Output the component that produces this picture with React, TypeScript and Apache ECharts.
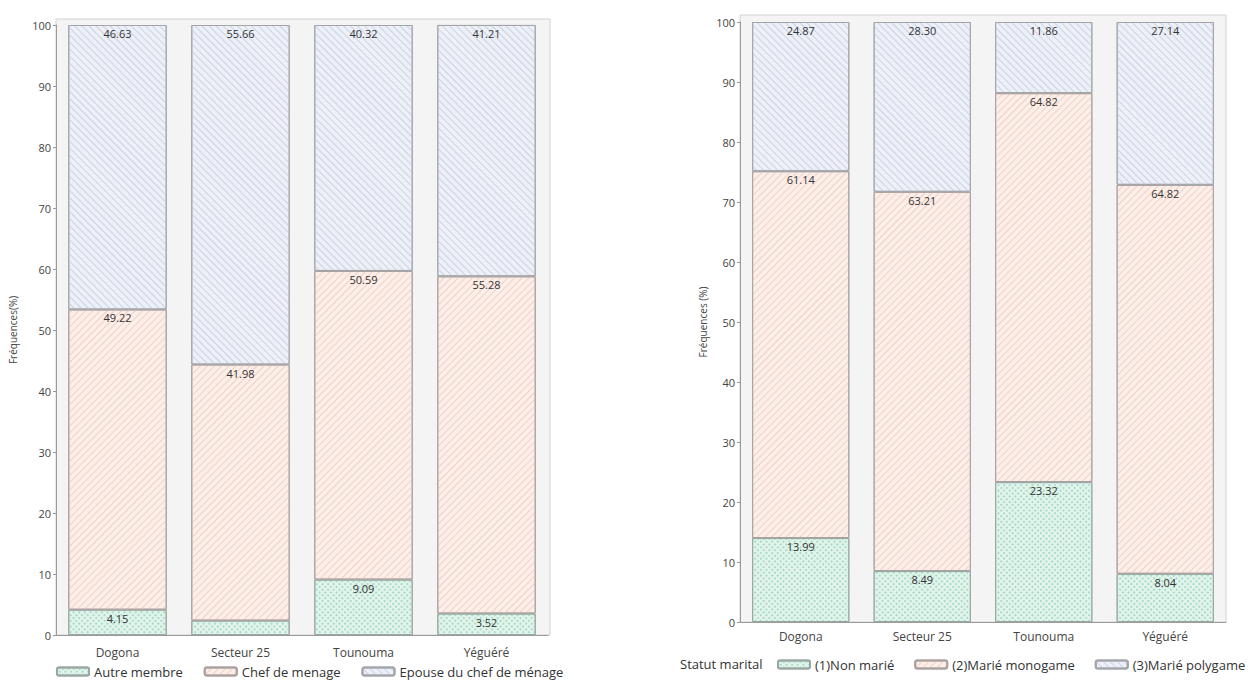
import React, { useEffect, useRef } from "react";
import * as echarts from "echarts";

const categories = ["Dogona", "Secteur 25", "Tounouma", "Yéguéré"];
const autreMembre = [4.15, 2.36, 9.09, 3.52];
const chefMenage = [49.22, 41.98, 50.59, 55.28];
const epouseChef = [46.63, 55.66, 40.32, 41.21];
const nonMarie = [13.99, 8.49, 23.32, 8.04];
const marieMono = [61.14, 63.21, 64.82, 64.82];
const mariePoly = [24.87, 28.3, 11.86, 27.14];
const yTicks = [0, 10, 20, 30, 40, 50, 60, 70, 80, 90, 100];

const FONT = "Open Sans";

const greenStyle = {
  color: "#e2f4ec",
  borderColor: "#9aa7a2",
  borderWidth: 1,
  decal: {
    symbol: "rect",
    symbolSize: 1,
    color: "#a9dcc6",
    dashArrayX: [2, 2],
    dashArrayY: [2, 2],
    rotation: Math.PI / 4,
  },
};
const pinkStyle = {
  color: "#fcefea",
  borderColor: "#a9a2a0",
  borderWidth: 1,
  decal: {
    symbol: "rect",
    symbolSize: 1,
    color: "#f2cfc4",
    dashArrayX: [1, 0],
    dashArrayY: [1, 4],
    rotation: -Math.PI / 4,
  },
};
const blueStyle = {
  color: "#edf0f7",
  borderColor: "#a3a5ab",
  borderWidth: 1,
  decal: {
    symbol: "rect",
    symbolSize: 1,
    color: "#cbd2e2",
    dashArrayX: [1, 0],
    dashArrayY: [1, 4],
    rotation: Math.PI / 4,
  },
};

function mkData(vals: number[], hideBelow = 3) {
  return vals.map((v) => ({
    value: v,
    label: { show: v >= hideBelow },
  }));
}

const labelCfg = {
  show: true,
  position: "insideTop",
  distance: 3,
  fontFamily: FONT,
  fontSize: 11,
  color: "#333",
  formatter: (p: any) => Number(p.value).toFixed(2),
};

export default function App() {
  const ref = useRef<HTMLDivElement>(null);
  useEffect(() => {
    if (!ref.current) return;
    const chart = echarts.init(ref.current, null, { renderer: "svg" });
    const yAxisBase = {
      type: "value",
      min: 0,
      max: 100,
      interval: 10,
      axisLine: { show: true, lineStyle: { color: "#9a9a9a" } },
      axisTick: { show: true, length: 3, lineStyle: { color: "#9a9a9a" } },
      splitLine: { show: false },
      axisLabel: { fontFamily: FONT, fontSize: 11, color: "#444", margin: 5, customValues: yTicks },
      nameLocation: "middle",
      nameTextStyle: { fontFamily: FONT, fontSize: 10, color: "#444" },
    };
    const xAxisBase = {
      type: "category",
      data: categories,
      axisLine: { show: true, lineStyle: { color: "#9a9a9a" } },
      axisTick: { show: false },
      axisLabel: { fontFamily: FONT, fontSize: 12, color: "#444" },
    };
    const legendText = { fontFamily: FONT, fontSize: 13, color: "#333" };
    chart.setOption({
      animation: false,
      backgroundColor: "#ffffff",
      graphic: [
        {
          type: "rect",
          z: -10,
          shape: { x: 56, y: 19, width: 494, height: 616 },
          style: { fill: "#f4f4f4", stroke: "#d2d2d2", lineWidth: 1 },
        },
        {
          type: "rect",
          z: -10,
          shape: { x: 740, y: 15, width: 486, height: 607 },
          style: { fill: "#f4f4f4", stroke: "#d2d2d2", lineWidth: 1 },
        },
        {
          type: "text",
          x: 680,
          y: 657,
          style: { text: "Statut marital", fontFamily: FONT, fontSize: 13, fill: "#333" },
        },
      ],
      grid: [
        { left: 56, top: 25, width: 492, height: 610 },
        { left: 740, top: 22, width: 486, height: 600 },
      ],
      xAxis: [
        { ...xAxisBase, gridIndex: 0, axisLabel: { ...xAxisBase.axisLabel, margin: 11 } },
        { ...xAxisBase, gridIndex: 1, axisLabel: { ...xAxisBase.axisLabel, margin: 8 } },
      ],
      yAxis: [
        { ...yAxisBase, gridIndex: 0, name: "Fréquences(%)", nameGap: 38 },
        { ...yAxisBase, gridIndex: 1, name: "Fréquences (%)", nameGap: 32 },
      ],
      legend: [
        {
          data: ["Autre membre", "Chef de menage", "Epouse du chef de ménage"],
          left: 56,
          top: 665,
          padding: 0,
          itemWidth: 32,
          itemHeight: 8,
          itemGap: 21,
          textStyle: legendText,
        },
        {
          data: ["(1)Non marié", "(2)Marié monogame", "(3)Marié polygame"],
          left: 777,
          top: 658,
          padding: 0,
          itemWidth: 32,
          itemHeight: 8,
          itemGap: 20,
          textStyle: legendText,
        },
      ],
      series: [
        {
          name: "Autre membre",
          type: "bar",
          stack: "a",
          xAxisIndex: 0,
          yAxisIndex: 0,
          barCategoryGap: "20%",
          itemStyle: greenStyle,
          label: labelCfg,
          data: mkData(autreMembre),
        },
        {
          name: "Chef de menage",
          type: "bar",
          stack: "a",
          xAxisIndex: 0,
          yAxisIndex: 0,
          barCategoryGap: "20%",
          itemStyle: pinkStyle,
          label: labelCfg,
          data: mkData(chefMenage),
        },
        {
          name: "Epouse du chef de ménage",
          type: "bar",
          stack: "a",
          xAxisIndex: 0,
          yAxisIndex: 0,
          barCategoryGap: "20%",
          itemStyle: blueStyle,
          label: labelCfg,
          data: mkData(epouseChef),
        },
        {
          name: "(1)Non marié",
          type: "bar",
          stack: "b",
          xAxisIndex: 1,
          yAxisIndex: 1,
          barCategoryGap: "20%",
          itemStyle: greenStyle,
          label: labelCfg,
          data: mkData(nonMarie),
        },
        {
          name: "(2)Marié monogame",
          type: "bar",
          stack: "b",
          xAxisIndex: 1,
          yAxisIndex: 1,
          barCategoryGap: "20%",
          itemStyle: pinkStyle,
          label: labelCfg,
          data: mkData(marieMono),
        },
        {
          name: "(3)Marié polygame",
          type: "bar",
          stack: "b",
          xAxisIndex: 1,
          yAxisIndex: 1,
          barCategoryGap: "20%",
          itemStyle: blueStyle,
          label: labelCfg,
          data: mkData(mariePoly),
        },
      ],
    });
    return () => chart.dispose();
  }, []);
  return (
    <div
      ref={ref}
      style={{ position: "absolute", left: 0, top: 0, width: 1258, height: 687 }}
    />
  );
}
